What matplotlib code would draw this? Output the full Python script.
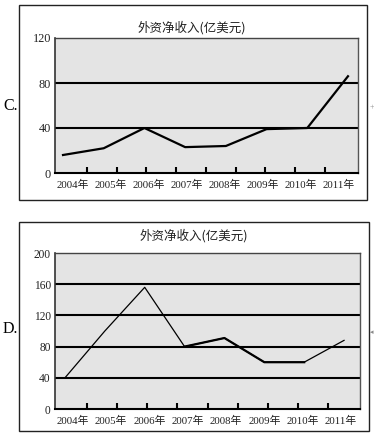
import numpy as np
import matplotlib
matplotlib.use("Agg")
import matplotlib.pyplot as plt
from matplotlib.patches import Rectangle

years = [2004, 2005, 2006, 2007, 2008, 2009, 2010, 2011]
year_labels = [f"{y}年" for y in years]
title = "外资净收入(亿美元)"

# 图 C
c_values = [16, 22, 40, 23, 24, 39, 40, 86]
c_yticks = [0, 40, 80, 120]
# 图 D
d_values = [40, 100, 156, 80, 91, 60, 60, 88]
d_yticks = [0, 40, 80, 120, 160, 200]

plt.rcParams["font.family"] = ["Liberation Serif", "Noto Sans CJK SC"]

W, H = 374, 438
fig = plt.figure(figsize=(W / 100, H / 100), dpi=100)


def fx(px):
    return px / W


def fy(py):
    return 1 - py / H


def panel(left, right, top, bottom, values, yticks, xlim,
          lab_start, lab_step, tk_start, tk_step, ysize):
    ax = fig.add_axes([fx(left), fy(bottom), fx(right - left), (bottom - top) / H])
    ax.set_facecolor("#e4e4e4")
    x = np.arange(len(values))
    ax.set_xlim(*xlim)
    ax.set_ylim(yticks[0], yticks[-1])
    for v in yticks[1:-1]:
        ax.axhline(v, color="black", lw=1.5, zorder=1)
    ax.set_yticks(yticks)
    ax.set_yticklabels([str(v) for v in yticks], fontsize=ysize, color="#222")
    ax.set_xticks(lab_start + lab_step * x)
    ax.set_xticklabels(year_labels, fontsize=7.8, color="#222")
    ax.set_xticks(tk_start + tk_step * np.arange(9), minor=True)
    ax.tick_params(axis="x", which="major", length=0, pad=5)
    ax.tick_params(axis="x", which="minor", direction="in", length=4, width=1.5, color="black")
    ax.tick_params(axis="y", length=0, pad=3)
    ax.spines["bottom"].set_linewidth(1.5)
    ax.spines["left"].set_linewidth(1.2)
    ax.spines["left"].set_color("#333")
    ax.spines["top"].set_linewidth(1.0)
    ax.spines["top"].set_color("#444")
    ax.spines["right"].set_linewidth(1.0)
    ax.spines["right"].set_color("#555")
    return ax, x


# C
ax_c, xc = panel(55, 358, 38, 173, c_values, c_yticks, (-0.197, 7.246),
                 0.25, 0.93, 0.59, 0.73, 8.8)
ax_c.plot(xc, c_values, color="black", lw=1.6, zorder=3)
fig.text(fx(192), fy(28), title, ha="center", va="center", fontsize=9,
         family=["Noto Sans CJK SC"], color="#222")
fig.text(fx(3), fy(106), "C.", ha="left", va="center", fontsize=11.5)
fig.text(fx(372), fy(107), "+", ha="center", va="center", fontsize=6, color="#888")
fig.add_artist(Rectangle((fx(19), fy(200)), fx(367 - 19), (200 - 5) / H,
                         transform=fig.transFigure, fill=False, lw=1.0, ec="#222"))

# D
ax_d, xd = panel(55, 360, 253, 409, d_values, d_yticks, (-0.25, 7.40),
                 0.2, 0.96, 0.55, 0.757, 8.3)
ax_d.plot(xd, d_values, color="black", lw=0.9, zorder=3)
ax_d.plot(xd[3:7], d_values[3:7], color="black", lw=1.6, zorder=3)
fig.text(fx(194), fy(236), title, ha="center", va="center", fontsize=9,
         family=["Noto Sans CJK SC"], color="#222")
fig.text(fx(3), fy(329), "D.", ha="left", va="center", fontsize=11.5)
fig.text(fx(372), fy(332), "◂", ha="center", va="center", fontsize=5,
         family=["DejaVu Sans"], color="#888")
fig.add_artist(Rectangle((fx(19), fy(431)), fx(369 - 19), (431 - 222) / H,
                         transform=fig.transFigure, fill=False, lw=1.0, ec="#222"))

fig.savefig("out.png", dpi=100)
